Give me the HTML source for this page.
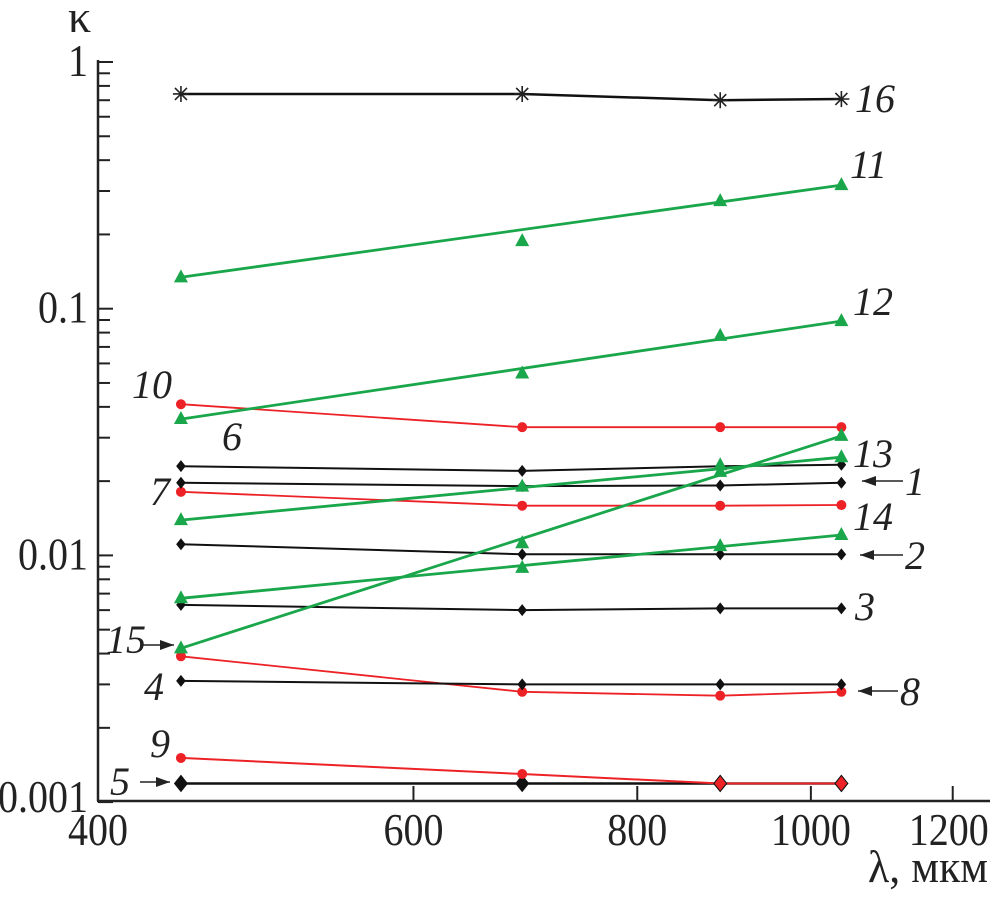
<!DOCTYPE html>
<html><head><meta charset="utf-8">
<style>
html,body{margin:0;padding:0;background:#fff;}
svg{display:block;font-family:"Liberation Serif",serif;}
.tick{font-size:46px;fill:#222;}
.lab{font-size:40px;font-style:italic;fill:#222;}
</style></head>
<body>
<svg id="chart" width="993" height="901" viewBox="0 0 993 901">
<g id="axes"></g>
<g id="series"></g>
<g id="labels"></g>
</svg>
<script>
const wavelengths = [445, 690, 890, 1040];
const s16 = [0.742, 0.742, 0.700, 0.708];
const s11 = [0.134, 0.188, 0.273, 0.317];
const s12 = [0.0357, 0.0546, 0.0776, 0.0891];
const s10 = [0.0410, 0.0331, 0.0331, 0.0331];
const s6 = [0.0230, 0.0220, 0.0230, 0.0233];
const s1 = [0.0197, 0.0191, 0.0192, 0.0197];
const s13 = [0.0139, 0.0190, 0.0232, 0.0250];
const s7 = [0.0181, 0.0159, 0.0159, 0.0160];
const s2 = [0.0111, 0.0101, 0.0101, 0.0101];
const s14 = [0.0067, 0.0089, 0.0109, 0.0121];
const s3 = [0.0063, 0.0060, 0.0061, 0.0061];
const s15 = [0.0042, 0.0112, 0.0218, 0.0305];
const s8 = [0.0039, 0.0028, 0.0027, 0.0028];
const s4 = [0.0031, 0.0030, 0.0030, 0.0030];
const s9 = [0.00151, 0.00130, 0.00119, 0.00119];
const s5 = [0.00119, 0.00119, 0.00119, 0.00119];
const xTicks = [400, 600, 800, 1000, 1200];
const yTicks = [1, 0.1, 0.01, 0.001];
const yTickLabels = ["1", "0.1", "0.01", "0.001"];

const NS = "http://www.w3.org/2000/svg";
const X0 = 98, XPX = 778, Y0 = 62, YPX = 246.7, XAXIS = 801, XEND = 990;
function xs(l){ return X0 + XPX * Math.log(l / 400); }
function ys(k){ return Y0 - YPX * Math.log10(k); }
function mk(tag, attrs, parent){
  const e = document.createElementNS(NS, tag);
  for (const k in attrs) e.setAttribute(k, attrs[k]);
  parent.appendChild(e); return e;
}
function tlen(s){ let w = 0; for (const c of s) w += (c === '.' ? 10 : 20); return w; }
const axes = document.getElementById('axes');
const ser = document.getElementById('series');
const lab = document.getElementById('labels');

let yl = mk('line', {x1:X0, y1:Y0-2, x2:X0, y2:XAXIS, stroke:'#222', 'stroke-width':2.5}, axes);


let xl = mk('line', {x1:X0-1, y1:XAXIS, x2:XEND, y2:XAXIS, stroke:'#222', 'stroke-width':2.5}, axes);



for (let e = -3; e < 0; e++) {
  for (let m = 2; m <= 9; m++) {
    const v = m * Math.pow(10, e);
    const t = mk('line', {x1:X0, y1:ys(v), x2:X0+12, y2:ys(v), stroke:'#222', 'stroke-width':2}, axes);
    
    
  }
}
yTicks.forEach((v, i) => {
  const t = mk('line', {x1:X0, y1:ys(v), x2:X0+15, y2:ys(v), stroke:'#222', 'stroke-width':2}, axes);
  
  
  const s = yTickLabels[i];
  const tx = mk('text', {x:X0-10, y:ys(v) + (i === 3 ? 10 : 14), 'text-anchor':'end', class:'tick', textLength:tlen(s), lengthAdjust:'spacingAndGlyphs'}, axes);
  tx.textContent = s;
  
  
});
xTicks.forEach(v => {
  if (v !== 400) {
    const t = mk('line', {x1:xs(v), y1:XAXIS, x2:xs(v), y2:XAXIS-15, stroke:'#222', 'stroke-width':2}, axes);
    
    
  }
  const s = String(v);
  const tx = mk('text', {x:xs(v) - (v === 1200 ? 4 : 0), y:XAXIS+44, 'text-anchor':'middle', class:'tick', textLength:tlen(s), lengthAdjust:'spacingAndGlyphs'}, axes);
  tx.textContent = s;
  
  
});
let yt = mk('text', {x:68, y:32, class:'tick', 'font-size':'40'}, axes);
yt.textContent = 'κ';


let xt = mk('text', {x:988, y:882, 'text-anchor':'end', class:'tick', textLength:120, lengthAdjust:'spacingAndGlyphs'}, axes);
xt.textContent = 'λ, мкм';



const BLACK = '#111', GREEN = '#1aa64a', RED = '#ec2227';
function marker(type, x, y, color, g, big){
  let e;
  if (type === 'diamond') {
    const r = big ? 8 : 6;
    e = mk('polygon', {points:`${x},${y-r} ${x+r*0.8},${y} ${x},${y+r} ${x-r*0.8},${y}`, fill:color, stroke: big ? '#111' : 'none', 'stroke-width':1}, g);
  } else if (type === 'tri') {
    e = mk('polygon', {points:`${x},${y-8} ${x+7},${y+5} ${x-7},${y+5}`, fill:color}, g);
  } else if (type === 'circle') {
    e = mk('circle', {cx:x, cy:y, r:5, fill:color}, g);
  } else {
    e = mk('path', {d:`M${x-8},${y}H${x+8}M${x},${y-8}V${y+8}M${x-6},${y-6}L${x+6},${y+6}M${x-6},${y+6}L${x+6},${y-6}`, stroke:'#222', 'stroke-width':1.6, fill:'none'}, g);
  }
  
  
}
// straight: line drawn between first and last points only (fit line), markers at all points
function series(name, vals, color, width, type, bigIdx, markerColors, straight){
  const g = mk('g', {}, ser);
  
  
  const idx = straight ? [0, wavelengths.length - 1] : wavelengths.map((_, i) => i);
  const pts = idx.map(i => xs(wavelengths[i]).toFixed(1) + ',' + ys(vals[i]).toFixed(1)).join(' ');
  const pl = mk('polyline', {points:pts, fill:'none', stroke:color, 'stroke-width':width}, g);
  
  
  wavelengths.forEach((l, i) => marker(type, xs(l), ys(vals[i]), markerColors ? markerColors[i] : color, g, bigIdx));
}
series('series-16', s16, BLACK, 2.5, 'star');
series('series-10', s10, RED, 1.8, 'circle');
series('series-7', s7, RED, 1.8, 'circle');
series('series-8', s8, RED, 1.8, 'circle');
series('series-6', s6, BLACK, 2, 'diamond');
series('series-1', s1, BLACK, 2, 'diamond');
series('series-2', s2, BLACK, 2, 'diamond');
series('series-3', s3, BLACK, 2, 'diamond');
series('series-4', s4, BLACK, 2, 'diamond');
series('series-5', s5, BLACK, 2.5, 'diamond', true, [BLACK, BLACK, RED, RED]);
series('series-9', s9, RED, 2, 'circle');
series('series-11', s11, GREEN, 2.8, 'tri', false, null, true);
series('series-12', s12, GREEN, 2.8, 'tri', false, null, true);
series('series-13', s13, GREEN, 2.8, 'tri', false, null, true);
series('series-14', s14, GREEN, 2.8, 'tri', false, null, true);
series('series-15', s15, GREEN, 2.8, 'tri', false, null, true);
(function(){
  const g = mk('g', {}, ser);
  
  
  [2, 3].forEach(i => marker('diamond', xs(wavelengths[i]), ys(s5[i]), RED, g, true));
})();

const labels = [
  ['16', 855, 112], ['11', 850, 178], ['12', 853, 315], ['10', 132, 398],
  ['6', 222, 450], ['13', 853, 467], ['1', 905, 495], ['7', 150, 505],
  ['14', 853, 530], ['2', 905, 569], ['3', 855, 620], ['15', 106, 653],
  ['4', 144, 700], ['8', 900, 705], ['9', 150, 757], ['5', 110, 795]
];
labels.forEach(([t, x, y]) => {
  const e = mk('text', {x:x, y:y, class:'lab'}, lab);
  e.textContent = t;
  
  
});
const arrows = [[903, 481, 862], [903, 555, 860], [898, 691, 858], [140, 645, 174], [140, 782, 170]];
arrows.forEach(([x1, y, x2]) => {
  const g = mk('g', {}, lab);
  
  
  mk('line', {x1:x1, y1:y, x2:x2, y2:y, stroke:'#222', 'stroke-width':1.5}, g);
  const dir = x2 > x1 ? -1 : 1;
  mk('polygon', {points:`${x2},${y} ${x2+dir*14},${y-5} ${x2+dir*14},${y+5}`, fill:'#222'}, g);
});
</script>
</body></html>
